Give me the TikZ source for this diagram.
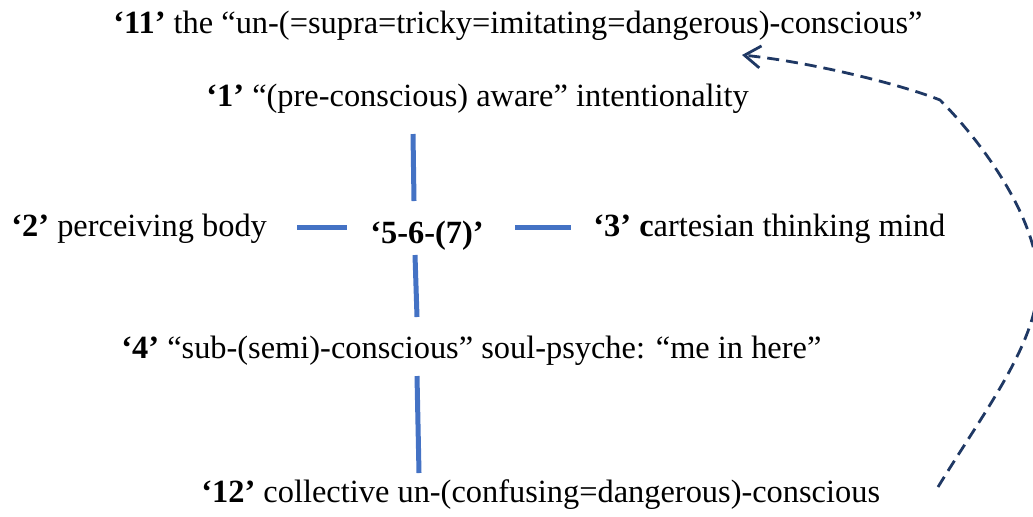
\documentclass[tikz,border=0pt]{standalone}
\usepackage{fontspec}
\setmainfont{Liberation Serif}
\usepackage{tikz}
\usetikzlibrary{arrows.meta}
\definecolor{barblue}{HTML}{4472C4}
\definecolor{navy}{HTML}{1F3864}
\tikzset{
  lbl/.style={anchor=base west, inner sep=0pt, font=\fontsize{16.2}{19}\selectfont},
  bar/.style={draw=barblue, line width=2.5pt},
  back/.style={draw=navy, line width=1.4pt, dash pattern=on 6pt off 3.5pt,
    -{Straight Barb[length=8pt,width=11pt,line width=1.4pt]}}
}
\begin{document}
\begin{tikzpicture}[x=0.5pt, y=-0.5pt]
  \useasboundingbox (0,0) rectangle (1033,516);
  \node[lbl] (eleven) at (113,33) {\textbf{‘11’} the “un-(=supra=tricky=imitating=dangerous)-conscious”};
  \node[lbl] (one) at (206,106) {\textbf{‘1’} “(pre-conscious) aware” intentionality};
  \node[lbl] (two) at (11,236) {\textbf{‘2’} perceiving body};
  \node[lbl] (core) at (370,243) {\textbf{‘5-6-(7)’}};
  \node[lbl] (three) at (593,236) {\textbf{‘3’ c}artesian thinking mind};
  \node[lbl] (four) at (121,358) {\textbf{‘4’} “sub-(semi)-conscious” soul-psyche: “me in here”};
  \node[lbl] (twelve) at (201,502) {\textbf{‘12’} collective un-(confusing=dangerous)-conscious};
  \coordinate (a1) at (413,134);  \coordinate (a2) at (414,201);
  \coordinate (b1) at (297,227);  \coordinate (b2) at (347,227);
  \coordinate (c1) at (515,227);  \coordinate (c2) at (571,227);
  \coordinate (d1) at (415,255);  \coordinate (d2) at (417,317);
  \coordinate (e1) at (417,376);  \coordinate (e2) at (419,473);
  \draw[bar] (a1) -- (a2);
  \draw[bar] (b1) -- (b2);
  \draw[bar] (c1) -- (c2);
  \draw[bar] (d1) -- (d2);
  \draw[bar] (e1) -- (e2);
  \coordinate (from) at (938,487);
  \coordinate (to) at (742,55);
  \draw[back] (from) .. controls (985,410) and (1040,340) .. (1038,278)
    .. controls (1036,215) and (980,140) .. (940,100)
    .. controls (900,84) and (810,62) .. (to);
\end{tikzpicture}
\end{document}
